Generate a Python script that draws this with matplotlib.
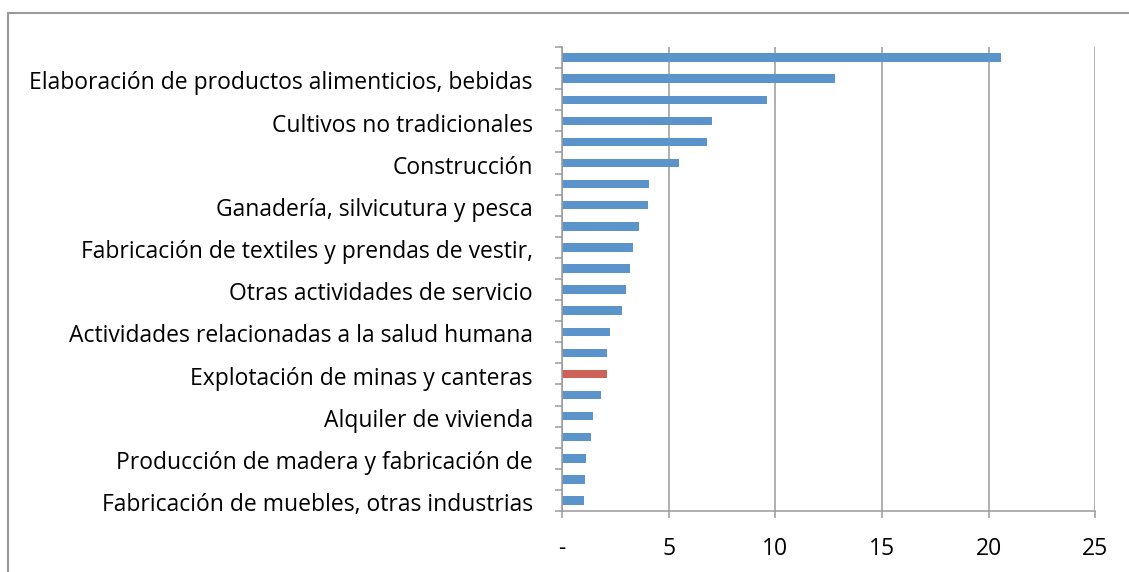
import numpy as np
import matplotlib.pyplot as plt
from matplotlib.lines import Line2D

# Datos (de arriba hacia abajo, como en el gráfico)
sectores = [
    "",
    "Elaboración de productos alimenticios, bebidas",
    "",
    "Cultivos no tradicionales",
    "",
    "Construcción",
    "",
    "Ganadería, silvicutura y pesca",
    "",
    "Fabricación de textiles y prendas de vestir,",
    "",
    "Otras actividades de servicio",
    "",
    "Actividades relacionadas a la salud humana",
    "",
    "Explotación de minas y canteras",
    "",
    "Alquiler de vivienda",
    "",
    "Producción de madera y fabricación de",
    "",
    "Fabricación de muebles, otras industrias",
]
valores = [20.6, 12.78, 9.61, 7.05, 6.78, 5.47, 4.10, 4.03, 3.61, 3.31, 3.19,
           3.02, 2.83, 2.27, 2.11, 2.13, 1.85, 1.46, 1.36, 1.13, 1.07, 1.03]
destacado = "Explotación de minas y canteras"

xticks = [0, 5, 10, 15, 20, 25]
xticklabels = ["-", "5", "10", "15", "20", "25"]

AZUL = '#5b94cb'
ROJO = '#cf615b'
GRIS = '#9a9a9a'

plt.rcParams['font.family'] = ['Open Sans', 'DejaVu Sans']

fig = plt.figure(figsize=(11.29, 5.72), dpi=100)
ax = fig.add_axes([0.4978, 0.1066, 0.4722, 0.8112])

n = len(valores)
pos = np.arange(n)[::-1]  # primera categoría arriba
colores = [ROJO if s == destacado else AZUL for s in sectores]
ax.barh(pos, valores, height=0.4, color=colores, zorder=3)

ax.set_xlim(0, 25)
ax.set_ylim(-0.5, n - 0.5)
ax.set_xticks(xticks)
ax.set_xticklabels(xticklabels, fontsize=16.5)

# marcas en los límites entre categorías, etiquetas en el centro
ax.set_yticks(np.arange(n + 1) - 0.5)
ax.set_yticklabels([])
ax.set_yticks(pos - 0.08, labels=sectores, minor=True)
ax.tick_params(axis='y', which='major', length=5, width=1.1, color=GRIS)
ax.tick_params(axis='y', which='minor', length=0, pad=21, labelsize=16.5)
ax.tick_params(axis='x', length=5, width=1.1, color=GRIS, pad=14)

ax.grid(axis='x', color=GRIS, linewidth=1.1, zorder=0)
for lado in ['top', 'right']:
    ax.spines[lado].set_visible(False)
for lado in ['left', 'bottom']:
    ax.spines[lado].set_color(GRIS)
    ax.spines[lado].set_linewidth(1.1)
    ax.spines[lado].set_zorder(4)

# marco exterior del gráfico
W, H = 1129, 572
fig.add_artist(Line2D([8 / W, 1.0], [1 - 13 / H, 1 - 13 / H], color=GRIS, lw=1.5))
fig.add_artist(Line2D([8 / W, 8 / W], [0.0, 1 - 13 / H], color=GRIS, lw=1.5))

plt.savefig('out.png', dpi=100)
